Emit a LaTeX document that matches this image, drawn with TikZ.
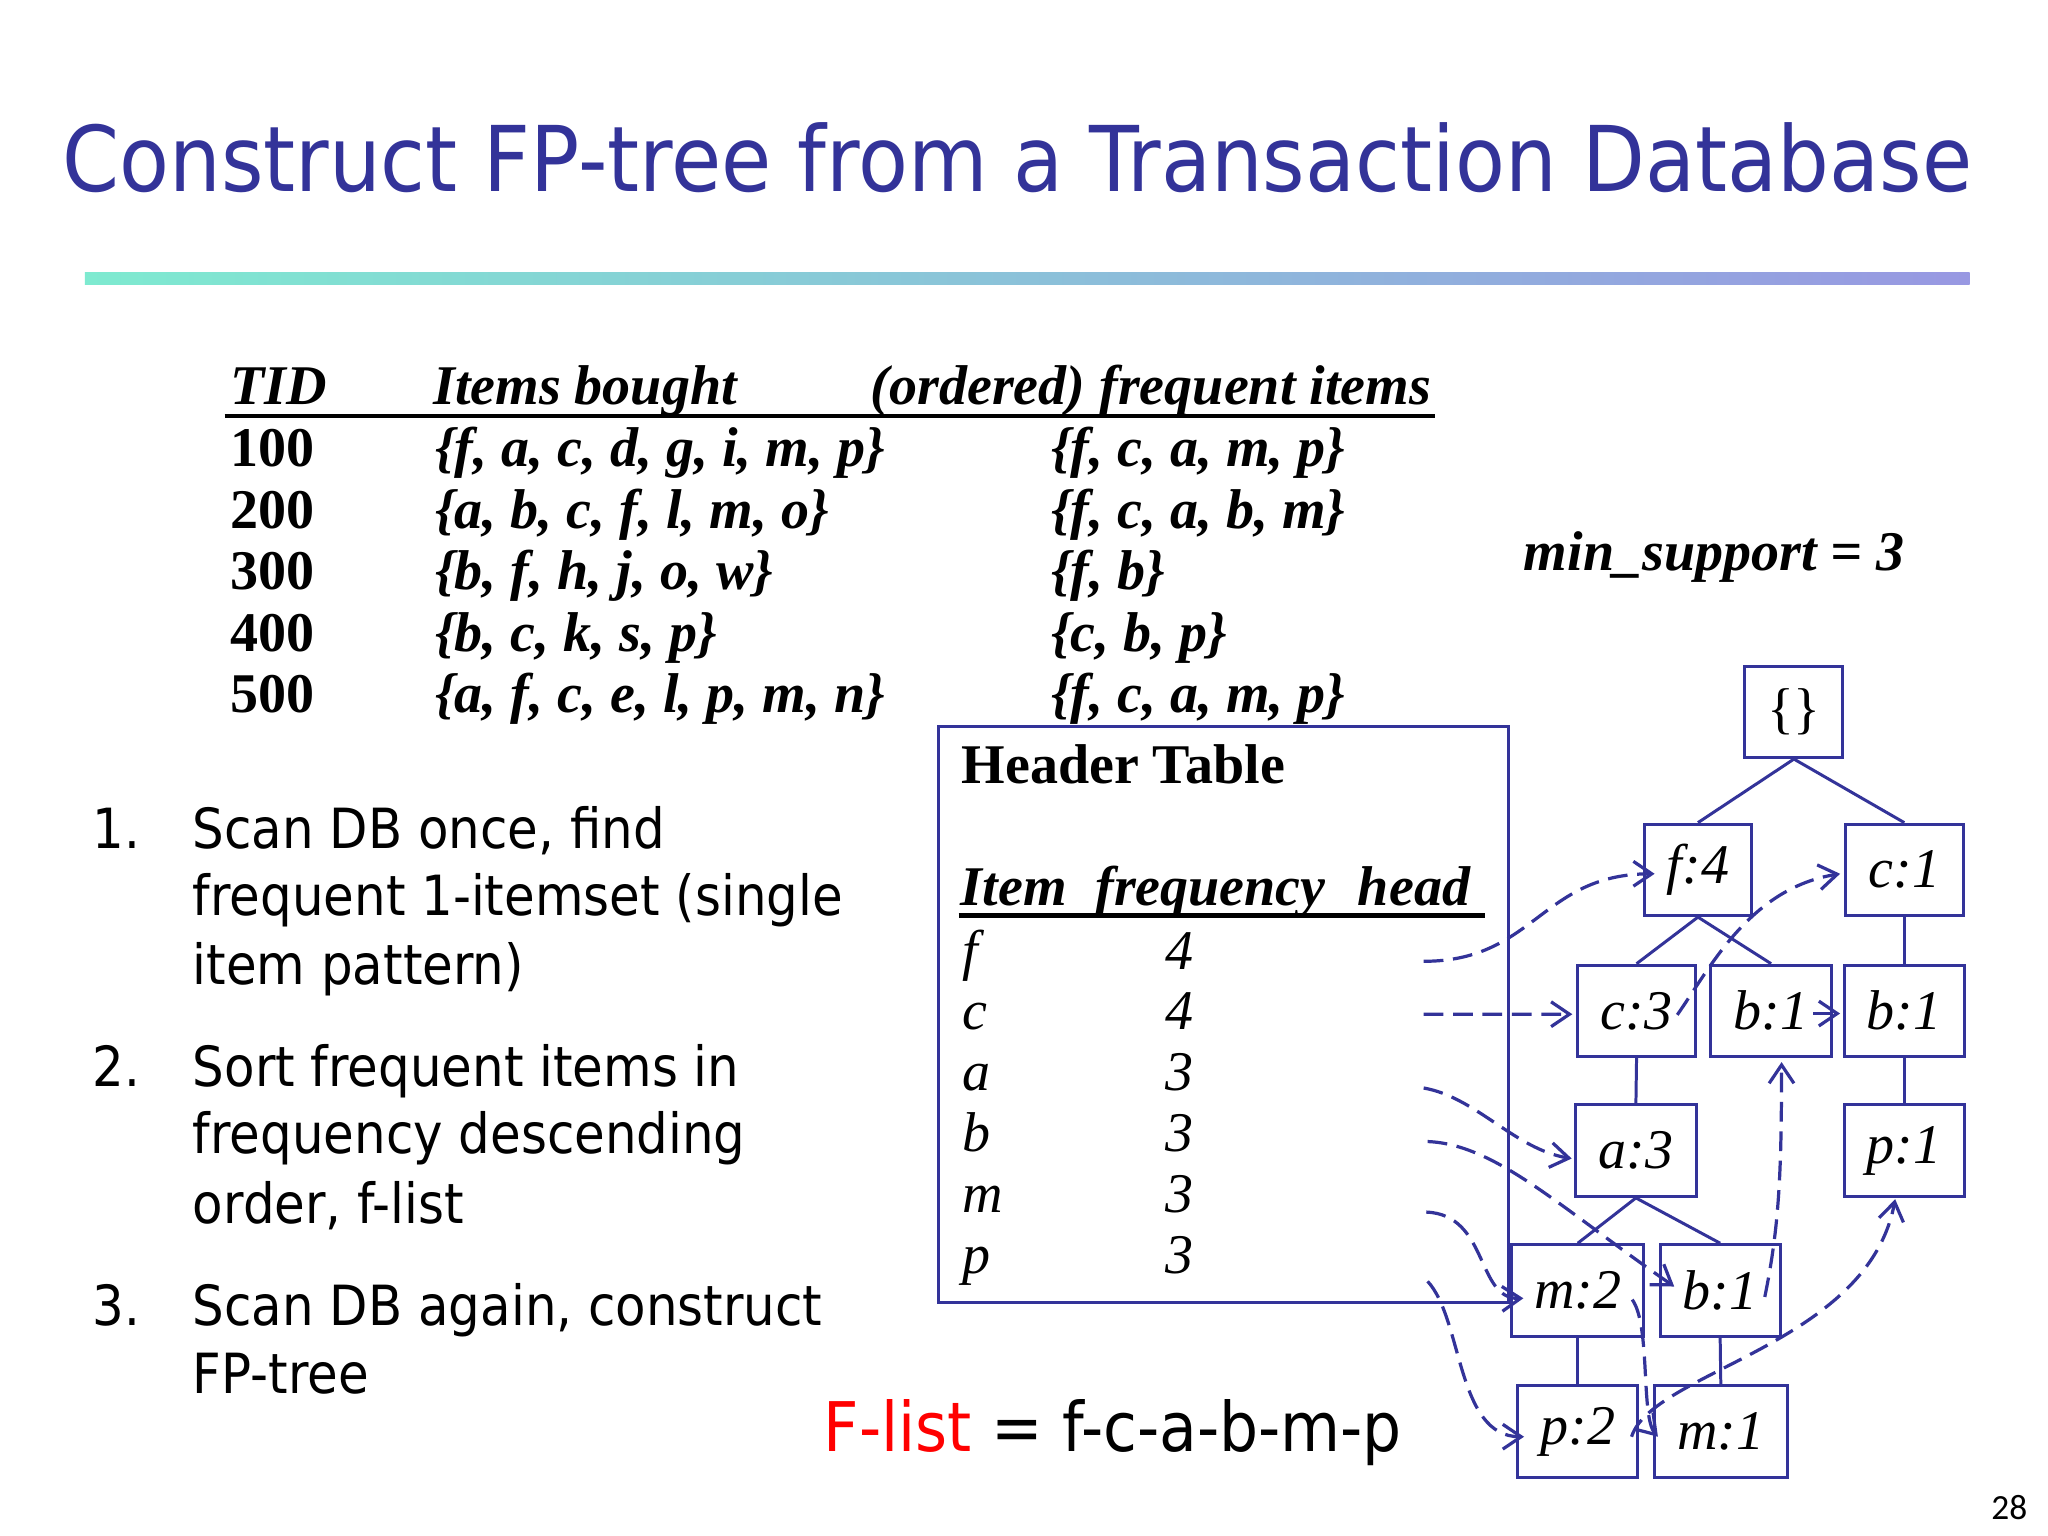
\documentclass[tikz,border=0pt]{standalone}
\usepackage{fontspec}
\setmainfont{Liberation Serif}
\newfontfamily\slidefont[FakeStretch=0.9]{DejaVu Sans}
\newfontfamily\pagefont{Carlito}
\usepackage{xcolor}
\usetikzlibrary{positioning,calc,arrows.meta}

\definecolor{fpblue}{RGB}{51,51,153}
\definecolor{barleft}{RGB}{126,234,208}
\definecolor{barright}{RGB}{152,152,226}
\newcommand{\dbsize}{\fontsize{12.2}{14}\selectfont}

\tikzset{
  txt/.style={inner sep=0pt, anchor=base west},
  boldit/.style={txt, font=\dbsize\bfseries\itshape},
  boldup/.style={txt, font=\dbsize\bfseries},
  plainit/.style={txt, font=\dbsize\itshape},
  slide/.style={txt, font=\slidefont\fontsize{12.06}{14}\selectfont},
  fpnode/.style={draw=fpblue, line width=0.65pt, minimum height=0.7cm, inner sep=0pt, font=\dbsize\itshape},
  link/.style={draw=fpblue, line width=0.65pt},
  headlink/.style={draw=fpblue, line width=0.7pt, dash pattern=on 4.3pt off 2.1pt,
    -{Straight Barb[length=4pt,width=5.4pt]}},
}

\begin{document}
\begin{tikzpicture}[x=0.01cm, y=-0.01cm]
    \fill[white] (0,0) rectangle (1568,1176);
    \useasboundingbox (0,0) rectangle (1568,1176);

    % Title and bar
    \node[txt, font=\slidefont\fontsize{19.75}{24}\selectfont, text=fpblue] (title) at (47,147)
        {Construct FP-tree from a Transaction Database};
    \shade[left color=barleft, right color=barright] (65,208.5) rectangle (1508,217.5);

    % Transaction database
    \node[boldit] (tidhead) at (175.5,310) {TID};
    \node[boldit] (boughthead) at (331,310) {Items bought};
    \node[boldit] (freqhead) at (666,310) {(ordered) frequent items};
    \draw[line width=1pt] (172,318.5) -- (1099,318.5);
    \foreach \tid/\bought/\freq [count=\i] in {100/{f, a, c, d, g, i, m, p}/{f, c, a, m, p},
        200/{a, b, c, f, l, m, o}/{f, c, a, b, m}, 300/{b, f, h, j, o, w}/{f, b},
        400/{b, c, k, s, p}/{c, b, p}, 500/{a, f, c, e, l, p, m, n}/{f, c, a, m, p}}
    {
        \node[boldup] (tid\i) at (175.5,310.5+47*\i) {\tid};
        \node[boldit] (bought\i) at (332.5,310.5+47*\i) {\{\bought\}};
        \node[boldit] (freq\i) at (804,310.5+47*\i) {\{\freq\}};
    }

    \node[boldit] (minsup) at (1166,436.5) {min\_support = 3};

    % Steps
    \node[slide] (num1) at (70,650) {1.};
    \node[slide] (num2) at (70,831.5) {2.};
    \node[slide] (num3) at (70,1015) {3.};
    \foreach \y/\steptext [count=\i] in {650/{Scan DB once, find}, 701/{frequent 1-itemset (single},
        754/{item pattern)}, 831.5/{Sort frequent items in}, 883.5/{frequency descending},
        936.5/{order, f-list}, 1015/{Scan DB again, construct}, 1067/{FP-tree}}
        \node[slide] (step\i) at (147,\y) {\steptext};

    \node[txt, font=\slidefont\fontsize{14.9}{17}\selectfont] (flist) at (630,1111)
        {\textcolor{red}{F-list} = f-c-a-b-m-p};
    \node[txt, font=\pagefont\fontsize{7.7}{9}\selectfont] (pageno) at (1524,1163) {28};

    % Header table
    \node[draw=fpblue, line width=0.65pt, minimum width=4.36cm, minimum height=4.41cm, inner sep=0pt]
        (htable) at (937,776.5) {};
    \node[boldup] (htitle) at (735.5,600) {Header Table};
    \node[boldit] (itemhead) at (735,693.5) {Item};
    \node[boldit] (counthead) at (838,693.5) {frequency};
    \node[boldit] (headhead) at (1039,693.5) {head};
    \draw[line width=1pt] (734,701) -- (1137,701);
    \foreach \hitem/\hval [count=\i] in {f/4, c/4, a/3, b/3, m/3, p/3}
    {
        \node[plainit] (hitem\i) at (736,695.3+46.6*\i) {\hitem};
        \node[plainit] (hval\i) at (892,695.3+46.6*\i) {\hval};
    }
    \coordinate (fhead) at (1090,736);
    \coordinate (chead) at (1090,776.6);
    \coordinate (ahead) at (1090,833);
    \coordinate (bhead) at (1093,874);
    \coordinate (mhead) at (1092,928);
    \coordinate (phead) at (1093,981);

    % FP-tree
    \node[fpnode, minimum width=0.75cm, font=\dbsize] (root) at (1373.5,545) {\{\}};
    \node[fpnode, minimum width=0.82cm] (f4) at (1300,666) {f:4};
    \node[fpnode, minimum width=0.90cm] (c1) at (1458,666) {c:1};
    \node[fpnode, minimum width=0.90cm] (c3) at (1253,774) {c:3};
    \node[fpnode, minimum width=0.92cm] (fb1) at (1356,774) {b:1};
    \node[fpnode, minimum width=0.92cm] (cb1) at (1458,774) {b:1};
    \node[fpnode, minimum width=0.92cm] (a3) at (1252.5,881) {a:3};
    \node[fpnode, minimum width=0.92cm] (cp1) at (1458,881) {p:1};
    \node[fpnode, minimum width=1.01cm] (m2) at (1208,988) {m:2};
    \node[fpnode, minimum width=0.92cm] (ab1) at (1317,988) {b:1};
    \node[fpnode, minimum width=0.92cm] (p2) at (1208,1096) {p:2};
    \node[fpnode, minimum width=1.02cm] (bm1) at (1317.5,1096) {m:1};

    % Tree edges
    \draw[link] (root.south) -- (f4.north);
    \draw[link] (root.south) -- (c1.north);
    \draw[link] (f4.south) -- (c3.north);
    \draw[link] (f4.south) -- (fb1.north);
    \draw[link] (c1.south) -- (cb1.north);
    \draw[link] (c3.south) -- (a3.north);
    \draw[link] (cb1.south) -- (cp1.north);
    \draw[link] (a3.south) -- (m2.north);
    \draw[link] (a3.south) -- (ab1.north);
    \draw[link] (m2.south) -- (p2.north);
    \draw[link] (ab1.south) -- (bm1.north);

    % Node-links from the header table
    \draw[headlink] (fhead) .. controls (1175,736) and (1180,669) .. ($(f4.west)+(9,3)$);
    \draw[headlink] (chead) -- ($(c3.west)+(-3,2.5)$);
    \draw[headlink] (ahead) .. controls (1130,840) and (1160,880) .. ($(a3.west)+(-2,6)$);
    \draw[headlink] (bhead) .. controls (1145,876) and (1195,925) .. ($(ab1.west)+(12,-3)$);
    \draw[headlink] (mhead) .. controls (1140,930) and (1130,995) .. ($(m2.west)+(10,6)$);
    \draw[headlink] (phead) .. controls (1120,1010) and (1115,1100) .. ($(p2.west)+(6,4)$);

    % Node-links between tree nodes
    \draw[headlink] ($(c3.east)+(-15,3)$) .. controls (1310,740) and (1340,680) .. ($(c1.west)+(-3,3)$);
    \draw[headlink] ($(fb1.east)+(-15,2)$) -- ($(cb1.west)+(-2,2)$);
    \draw[headlink] ($(ab1.east)+(-13,5)$) .. controls (1362,940) and (1364,900) .. ($(fb1.south)+(8,3)$);
    \draw[headlink] ($(m2.east)+(-10,7)$) .. controls (1264,1015) and (1256,1085) .. ($(bm1.west)+(4,4)$);
    \draw[headlink] ($(p2.east)+(-6,4)$) .. controls (1265,1050) and (1430,1030) .. ($(cp1.south)+(-7,1)$);
\end{tikzpicture}
\end{document}
